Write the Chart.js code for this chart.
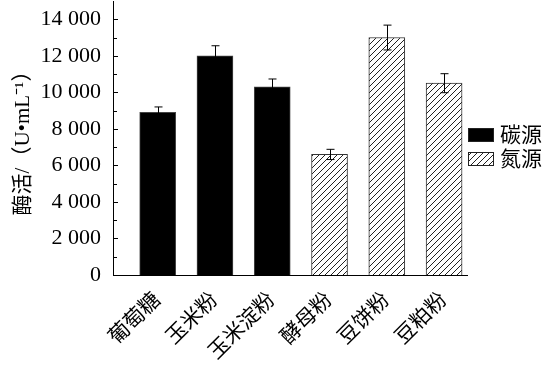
<!DOCTYPE html>
<html>
<head>
<meta charset="utf-8">
<script src="https://cdn.jsdelivr.net/npm/chart.js@4"></script>
<style>
  html, body { margin: 0; padding: 0; background: #fff; }
  #wrap { width: 544px; height: 366px; }
</style>
</head>
<body>
<div id="wrap"><canvas id="c" width="544" height="366"></canvas></div>
<script>
var categories = ['葡萄糖', '玉米粉', '玉米淀粉', '酵母粉', '豆饼粉', '豆粕粉'];
var carbonValues = [8900, 12000, 10300, null, null, null];
var nitrogenValues = [null, null, null, 6600, 13000, 10500];
var errors = [300, 550, 430, 280, 680, 520];
var yTicks = [0, 2000, 4000, 6000, 8000, 10000, 12000, 14000];
var seriesNames = ['碳源', '氮源'];

var FONT = '"Liberation Serif", "Noto Sans CJK SC", serif';

var makeHatch = function() {
    var c = document.createElement('canvas');
    c.width = 6; c.height = 6;
    var g = c.getContext('2d');
    g.fillStyle = '#fff';
    g.fillRect(0, 0, 6, 6);
    g.strokeStyle = '#222';
    g.lineWidth = 1;
    g.beginPath();
    g.moveTo(0, 6); g.lineTo(6, 0);
    g.moveTo(-1, 1); g.lineTo(1, -1);
    g.moveTo(5, 7); g.lineTo(7, 5);
    g.stroke();
    return g.createPattern(c, 'repeat');
};
var hatch = makeHatch();

var toPoints = function(arr) {
    var out = [];
    arr.forEach(function(v, i) {
        if (v !== null) out.push({x: i, y: v});
    });
    return out;
};

var fmt = function(v) {
    return String(v).replace(/\B(?=(\d{3})+(?!\d))/g, ' ');
};

// error bars + inner ticks on the y axis + legend at the right
var extras = {
    id: 'extras',
    afterDatasetsDraw: function(chart) {
        var ctx = chart.ctx;
        var y = chart.scales.y;
        ctx.save();
        ctx.strokeStyle = '#000';
        ctx.lineWidth = 1;
        chart.data.datasets.forEach(function(ds, di) {
            var meta = chart.getDatasetMeta(di);
            meta.data.forEach(function(bar, j) {
                var p = ds.data[j];
                var e = errors[p.x];
                var x = Math.round(bar.x) + 0.5;
                var t = y.getPixelForValue(p.y + e);
                var b = y.getPixelForValue(p.y - e);
                ctx.beginPath();
                ctx.moveTo(x, t); ctx.lineTo(x, b);
                ctx.moveTo(x - 4, t); ctx.lineTo(x + 4, t);
                ctx.moveTo(x - 4, b); ctx.lineTo(x + 4, b);
                ctx.stroke();
            });
        });

        // inward ticks
        var left = chart.chartArea.left;
        for (var v = 1000; v <= 14000; v += 1000) {
            var py = Math.round(y.getPixelForValue(v)) + 0.5;
            ctx.beginPath();
            ctx.moveTo(left, py);
            ctx.lineTo(left + (v % 2000 === 0 ? 5 : 4), py);
            ctx.stroke();
        }

        // legend
        var lx = 468, ly = [128, 152];
        ctx.font = '21px ' + FONT;
        ctx.textBaseline = 'middle';
        ctx.textAlign = 'left';
        chart.data.datasets.forEach(function(ds, di) {
            ctx.fillStyle = ds.backgroundColor;
            ctx.fillRect(lx, ly[di], 26, 14);
            ctx.strokeStyle = '#222';
            ctx.strokeRect(lx + 0.5, ly[di] + 0.5, 25, 13);
            ctx.fillStyle = '#000';
            ctx.fillText(ds.label, lx + 32, ly[di] + 8);
        });
        ctx.restore();
    }
};

var chart = new Chart(document.getElementById('c'), {
    type: 'bar',
    data: {
        datasets: [{
            label: seriesNames[0],
            data: toPoints(carbonValues),
            backgroundColor: '#000',
            borderColor: '#444',
            borderWidth: 1,
            grouped: false,
            barThickness: 36
        }, {
            label: seriesNames[1],
            data: toPoints(nitrogenValues),
            backgroundColor: hatch,
            borderColor: '#333',
            borderWidth: 1,
            grouped: false,
            barThickness: 36
        }]
    },
    options: {
        responsive: false,
        animation: false,
        layout: { padding: { top: 1, right: 77, bottom: 0, left: 0 } },
        plugins: {
            legend: { display: false },
            tooltip: { enabled: false }
        },
        scales: {
            x: {
                type: 'linear',
                offset: false,
                min: -0.78,
                max: 5.4,
                grid: { display: false, drawTicks: false, offset: false },
                border: { display: true, color: '#000', width: 1 },
                afterBuildTicks: function(s) {
                    s.ticks = categories.map(function(c, i) { return {value: i}; });
                },
                afterFit: function(s) {
                    s.height = 91;
                    s.paddingLeft = 0;
                    s.paddingRight = 0;
                },
                ticks: {
                    autoSkip: false,
                    minRotation: 45,
                    maxRotation: 45,
                    padding: 13,
                    color: '#000',
                    font: { family: FONT, size: 21 },
                    callback: function(v) { return categories[v]; }
                }
            },
            y: {
                min: 0,
                max: 15000,
                grid: { display: false, drawTicks: false },
                border: { display: true, color: '#000', width: 1 },
                afterBuildTicks: function(s) {
                    s.ticks = yTicks.map(function(v) { return {value: v}; });
                },
                afterFit: function(s) {
                    s.width = 113;
                    s.paddingTop = 0;
                    s.paddingBottom = 0;
                },
                ticks: {
                    padding: 12,
                    color: '#000',
                    font: { family: FONT, size: 22 },
                    callback: function(v) { return fmt(v); }
                },
                title: {
                    display: true,
                    text: '酶活/（U•mL⁻¹）',
                    color: '#000',
                    padding: { top: 11, bottom: 0 },
                    font: { family: FONT, size: 21 }
                }
            }
        }
    },
    plugins: [extras]
});
</script>
</body>
</html>
